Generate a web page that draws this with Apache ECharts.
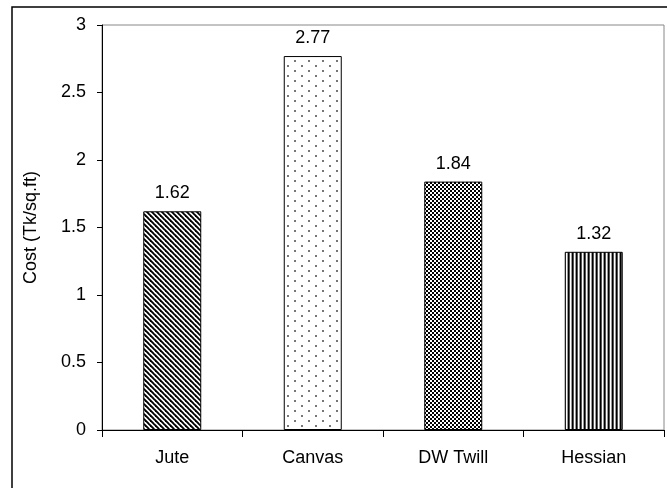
<!DOCTYPE html>
<html>
<head>
<meta charset="utf-8">
<script src="https://cdn.jsdelivr.net/npm/echarts@6/dist/echarts.min.js"></script>
<style>
  html, body { margin: 0; padding: 0; background: #fff; }
  #chart { width: 667px; height: 488px; }
</style>
</head>
<body>
<div id="chart"></div>
<script>
// Fabric types and their cost per square foot
var categories = ['Jute', 'Canvas', 'DW Twill', 'Hessian'];
var costs = [1.62, 2.77, 1.84, 1.32];
var yTicks = [0, 0.5, 1, 1.5, 2, 2.5, 3];

// Small repeating tiles used as hatch fills for the bars
function makeTile(w, h, draw) {
  var c = document.createElement('canvas');
  c.width = w; c.height = h;
  var ctx = c.getContext('2d');
  ctx.fillStyle = '#fff';
  ctx.fillRect(0, 0, w, h);
  draw(ctx);
  return c;
}

// diagonal stripes running top-left to bottom-right
var diagTile = makeTile(5, 5, function (ctx) {
  ctx.strokeStyle = '#000';
  ctx.lineWidth = 1.9;
  for (var k = -1; k <= 1; k++) {
    ctx.beginPath();
    ctx.moveTo(k * 5 - 1, -1);
    ctx.lineTo(k * 5 + 6, 6);
    ctx.stroke();
  }
});

// sparse staggered dots
var dotTile = makeTile(14, 10, function (ctx) {
  ctx.fillStyle = '#777';
  ctx.fillRect(0, 0, 2, 2);
  ctx.fillRect(7, 5, 2, 2);
});

// small checkerboard
var checkTile = makeTile(4, 4, function (ctx) {
  ctx.fillStyle = '#000';
  ctx.fillRect(0, 0, 2, 2);
  ctx.fillRect(2, 2, 2, 2);
});

// vertical stripes
var vertTile = makeTile(4, 1, function (ctx) {
  ctx.fillStyle = '#000'; ctx.fillRect(0, 0, 1, 1);
  ctx.fillStyle = '#555'; ctx.fillRect(1, 0, 1, 1);
  ctx.fillStyle = '#fff'; ctx.fillRect(2, 0, 1, 1);
  ctx.fillStyle = '#999'; ctx.fillRect(3, 0, 1, 1);
});

var fills = [diagTile, dotTile, checkTile, vertTile];

var chart = echarts.init(document.getElementById('chart'), null, { renderer: 'canvas' });

var font = 'Liberation Sans, Arial, sans-serif';
var fs = 18;

chart.setOption({
  animation: false,
  backgroundColor: '#fff',
  graphic: [{
    type: 'rect',
    shape: { x: 12, y: 7, width: 700, height: 520 },
    style: { fill: 'none', stroke: '#000', lineWidth: 1.5 },
    z: -1
  }],
  grid: {
    left: 102, top: 25, right: 3, bottom: 58,
    show: true, borderColor: '#888', borderWidth: 1, backgroundColor: 'transparent'
  },
  xAxis: {
    type: 'category',
    data: categories,
    axisLine: { lineStyle: { color: '#000', width: 1 } },
    axisTick: { show: true, length: 7, lineStyle: { color: '#000' } },
    axisLabel: { color: '#000', fontSize: fs, fontFamily: font, margin: 19 }
  },
  yAxis: {
    type: 'value',
    min: yTicks[0],
    max: yTicks[yTicks.length - 1],
    interval: 0.5,
    name: 'Cost (Tk/sq.ft)',
    nameLocation: 'middle',
    nameGap: 62,
    nameTextStyle: { color: '#000', fontSize: fs, fontFamily: font },
    axisLine: { show: true, lineStyle: { color: '#000', width: 1 } },
    axisTick: { show: true, length: 5, lineStyle: { color: '#000' } },
    axisLabel: { color: '#000', fontSize: fs, fontFamily: font, margin: 16 },
    splitLine: { show: false }
  },
  series: [{
    type: 'bar',
    barWidth: 58,
    data: costs.map(function (v, i) {
      return {
        value: v,
        itemStyle: {
          color: { image: fills[i], repeat: 'repeat' },
          borderColor: '#000',
          borderWidth: 1
        }
      };
    }),
    label: {
      show: true,
      position: 'top',
      distance: 9,
      color: '#000',
      fontSize: fs,
      fontFamily: font,
      formatter: function (p) { return p.value.toFixed(2); }
    }
  }]
});
</script>
</body>
</html>
